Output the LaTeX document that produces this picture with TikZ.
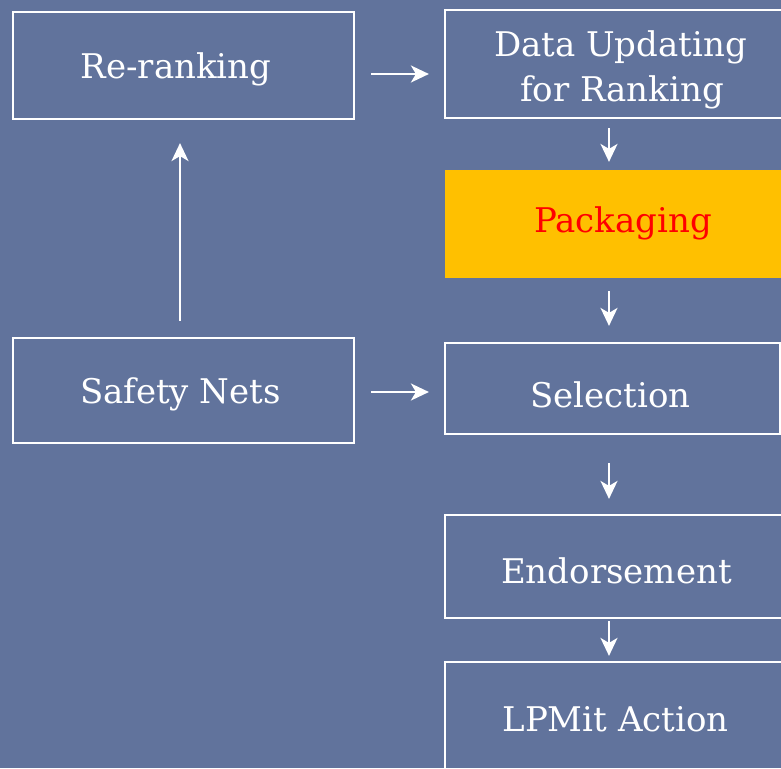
\documentclass[tikz,border=0pt]{standalone}
\usepackage{fontspec}
\setmainfont{DejaVu Serif}
\usetikzlibrary{arrows.meta}
\definecolor{bgblue}{RGB}{97,115,156}
\definecolor{packfill}{RGB}{255,192,0}
\begin{document}
\begin{tikzpicture}[x=1pt,y=-1pt,
  box/.style={draw=white,line width=2.2pt,text=white,inner sep=0pt,align=center,
    font=\fontsize{34}{45}\selectfont},
  arr/.style={draw=white,line width=2.2pt,-{Stealth[length=18pt,width=17pt,inset=5pt]}}]
\useasboundingbox (0,0) rectangle (781,768);
\clip (0,0) rectangle (781,768);
\fill[bgblue] (0,0) rectangle (781,768);
\node[box,minimum width=341pt,minimum height=107pt,text height=25.6pt,text depth=0pt] (rr) at (183.5,65.5) {Re-ranking\hspace*{15pt}};
\node[box,minimum width=338pt,minimum height=108pt,text height=75.4pt,text depth=0pt] (data) at (614,64) {\hspace*{13pt}Data Updating\\\hspace*{16pt}for Ranking};
\node[box,draw=none,fill=packfill,text=red,minimum width=338pt,minimum height=108pt,text height=16.6pt,text depth=0pt] (pack) at (614,224) {\hspace*{18pt}Packaging};
\node[box,minimum width=335pt,minimum height=91pt,text height=37.6pt,text depth=0pt] (sel) at (612.5,388.5) {Selection\hspace*{4pt}};
\node[box,minimum width=338pt,minimum height=103pt,text height=33.6pt,text depth=0pt] (end) at (614,566.5) {\hspace*{5pt}Endorsement};
\node[box,minimum width=338pt,minimum height=114pt,text height=25.4pt,text depth=0pt] (lp) at (614,719) {\hspace*{3pt}LPMit Action};
\node[box,minimum width=341pt,minimum height=105pt,text height=25.6pt,text depth=0pt] (safe) at (183.5,390.5) {Safety Nets\hspace*{6pt}};
\coordinate (col) at (609,0);
\coordinate (top) at (0,74);
\coordinate (mid) at (0,392);
\coordinate (lcol) at (180,0);
\draw[arr,shorten <=9pt,shorten >=7pt] (data.south -| col) -- (pack.north -| col);
\draw[arr,shorten <=12pt,shorten >=16pt] (pack.south -| col) -- (sel.north -| col);
\draw[arr,shorten <=28pt,shorten >=15pt] (sel.south -| col) -- (end.north -| col);
\draw[arr,shorten <=2pt,shorten >=5pt] (end.south -| col) -- (lp.north -| col);
\draw[arr,shorten <=16pt,shorten >=15pt] (rr.east |- top) -- (data.west |- top);
\draw[arr,shorten <=16pt,shorten >=15pt] (safe.east |- mid) -- (sel.west |- mid);
\draw[arr,shorten <=16pt,shorten >=23pt] (safe.north -| lcol) -- (rr.south -| lcol);
\end{tikzpicture}
\end{document}
